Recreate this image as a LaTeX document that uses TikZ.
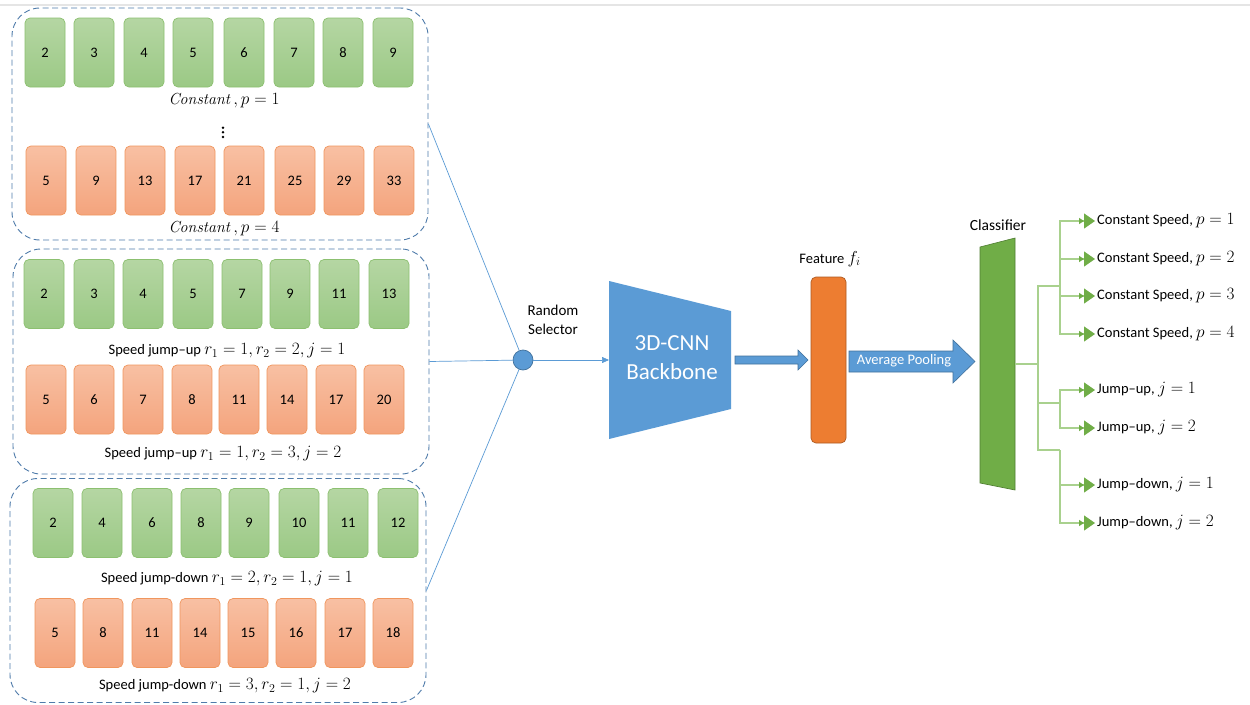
\documentclass[tikz,border=0pt]{standalone}
\usepackage{fontspec}
\setmainfont{Carlito}
\DeclareMathSizes{14.5}{16}{11.5}{9}
\usetikzlibrary{arrows.meta}

\definecolor{blu}{HTML}{5B9BD5}
\definecolor{bluD}{HTML}{41719C}
\definecolor{frm}{HTML}{4F7BAA}
\definecolor{org}{HTML}{ED7D31}
\definecolor{orgD}{HTML}{AE5A21}
\definecolor{grn}{HTML}{70AD47}
\definecolor{grnD}{HTML}{507E32}
\definecolor{grnL}{HTML}{A9D18E}
\definecolor{gTop}{HTML}{B5D6A3}
\definecolor{gBot}{HTML}{9BC985}
\definecolor{gEdge}{HTML}{8CC070}
\definecolor{oTop}{HTML}{F8C0A3}
\definecolor{oBot}{HTML}{F4A47D}
\definecolor{oEdge}{HTML}{F0965E}

% serif italic word set like a math identifier
\newcommand{\mword}[1]{{\fontfamily{lmr}\fontsize{16}{16}\selectfont\itshape #1}}

\tikzset{
  frame/.style={draw=frm, dash pattern=on 6pt off 3.5pt, line width=0.9pt,
    rounded corners=28pt, rectangle},
  fbox/.style={rectangle, rounded corners=5pt, minimum width=40pt,
    minimum height=69pt, line width=0.7pt, inner sep=0pt,
    font=\fontsize{14.5}{16}\selectfont},
  gbox/.style={fbox, draw=gEdge, top color=gTop, bottom color=gBot},
  obox/.style={fbox, draw=oEdge, top color=oTop, bottom color=oBot},
  grplbl/.style={font=\fontsize{14.5}{16}\selectfont, inner sep=1pt},
  feed/.style={draw=blu, line width=0.7pt},
  tl/.style={draw=grnL, line width=1.1pt},
  outarrow/.style={tl, -{Triangle[length=5pt,width=6pt,color=grn]Triangle[length=11pt,width=15pt,color=grn]}},
  outlbl/.style={anchor=west, inner sep=2pt, font=\fontsize{14.5}{16}\selectfont},
}

\begin{document}
\begin{tikzpicture}[x=1pt,y=-1pt]
\useasboundingbox (0,0) rectangle (1250,704);
\fill[white] (0,0) rectangle (1250,704);
\draw[black!10, line width=1.2pt] (0,5) -- (1250,5);

% ---- input clip groups ----
\node[frame, minimum width=416pt, minimum height=232pt] (f1) at (220,124) {};
\node[frame, minimum width=416pt, minimum height=225pt] (f2) at (221,361.5) {};
\node[frame, minimum width=416pt, minimum height=224pt] (f3) at (218,590.5) {};

% constant speed
\foreach \x/\t [count=\i] in {45/2,94/3,144/4,193/5,244/6,294/7,343/8,393/9}
  \node[gbox] (a\i) at (\x,52.5) {\t};
\node[grplbl] (la) at (224,101) {\mword{Constant}\ $,p=1$};
\foreach \yy in {127.7,132.3,137} \fill[black] (223,\yy) circle (1.4);
\foreach \x/\t [count=\i] in {46/5,96/9,145/13,195/17,244/21,295/25,344/29,394/33}
  \node[obox] (b\i) at (\x,180.5) {\t};
\node[grplbl] (lb) at (224,229) {\mword{Constant}\ $,p=4$};

% speed jump-up
\foreach \x/\t [count=\i] in {44/2,94/3,143/4,193/5,242/7,290/9,339/11,389/13}
  \node[gbox] (c\i) at (\x,294) {\t};
\node[grplbl] (lc) at (227,351) {Speed jump–up $r_1=1,r_2=2,j=1$};
\foreach \x/\t [count=\i] in {46/5,94/6,143/7,192/8,239/11,287/14,336/17,384/20}
  \node[obox] (d\i) at (\x,399.5) {\t};
\node[grplbl] (ld) at (223,454) {Speed jump–up $r_1=1,r_2=3,j=2$};

% speed jump-down
\foreach \x/\t [count=\i] in {53/2,102/4,152/6,201/8,249/9,299/10,348/11,398/12}
  \node[gbox] (e\i) at (\x,523) {\t};
\node[grplbl] (le) at (227,579) {Speed jump-down $r_1=2,r_2=1,j=1$};
\foreach \x/\t [count=\i] in {55/5,103/8,152/11,200/14,248/15,296/16,345/17,393/18}
  \node[obox] (g\i) at (\x,633) {\t};
\node[grplbl] (lg) at (225,686) {Speed jump-down $r_1=3,r_2=1,j=2$};

% ---- random selector ----
\node[circle, fill=blu, draw=bluD, line width=0.7pt, minimum size=20pt, inner sep=0pt] (sel) at (523,360) {};
\node[align=center, font=\fontsize{15}{19}\selectfont] (sellbl) at (553,320) {Random\\Selector};
\draw[feed] (f1.east) -- (sel);
\draw[feed] (f2.east) -- (sel);
\draw[feed] (f3.east) -- (sel);

% ---- backbone ----
\coordinate (bbin) at (609,360);
\fill[blu] (609,281) -- (731,311) -- (731,409) -- (609,439) -- cycle;
\node[text=white, align=center, font=\fontsize{23}{29}\selectfont] (bb) at (672,358) {3D-CNN\\Backbone};
\draw[feed, -{Triangle[length=7pt,width=6pt]}] (sel) -- (bbin);

% ---- feature ----
\draw[bluD, fill=blu, line width=0.6pt] (735,356) -- (798,356) -- (798,350) -- (808,360)
  -- (798,370) -- (798,364) -- (735,364) -- cycle;
\node[rectangle, rounded corners=5pt, fill=org, draw=orgD, line width=0.7pt,
  minimum width=35pt, minimum height=166pt] (feat) at (828.5,360) {};
\node[font=\fontsize{14.5}{16}\selectfont] (featlbl) at (830,259) {Feature $f_i$};

% ---- average pooling ----
\draw[bluD, fill=blu, line width=0.6pt] (849,351) -- (953,351) -- (953,340) -- (975,361.5)
  -- (953,383) -- (953,372) -- (849,372) -- cycle;
\node[text=white, font=\fontsize{14.5}{16}\selectfont] (pool) at (904,361) {Average Pooling};

% ---- classifier ----
\fill[grn] (980,247) -- (1015,238) -- (1015,490) -- (980,483) -- cycle;
\draw[grnD, line width=0.6pt] (980,247) -- (1015,238) -- (1015,490) -- (980,483) -- cycle;
\node[font=\fontsize{15.5}{16}\selectfont] (clslbl) at (998,225) {Classifier};
\coordinate (cout) at (1015,364);
\coordinate (hub) at (1038,364);
\coordinate (jc) at (1060,286);
\coordinate (ju) at (1060,403);
\coordinate (jd) at (1060,450);

\node[outlbl] (o1) at (1095,221) {Constant Speed, $p=1$};
\node[outlbl] (o2) at (1095,259) {Constant Speed, $p=2$};
\node[outlbl] (o3) at (1095,296) {Constant Speed, $p=3$};
\node[outlbl] (o4) at (1095,334) {Constant Speed, $p=4$};
\node[outlbl] (o5) at (1095,390) {Jump–up, $j=1$};
\node[outlbl] (o6) at (1095,428) {Jump–up, $j=2$};
\node[outlbl] (o7) at (1095,485) {Jump–down, $j=1$};
\node[outlbl] (o8) at (1095,523) {Jump–down, $j=2$};

\draw[tl] (cout) -- (hub);
\draw[tl] (hub) |- (jc);
\draw[tl] (hub) |- (ju);
\draw[tl] (hub) |- (jd);
\foreach \k in {1,2,3,4} \draw[outarrow] (jc) |- (o\k.west);
\foreach \k in {5,6} \draw[outarrow] (ju) |- (o\k.west);
\foreach \k in {7,8} \draw[outarrow] (jd) |- (o\k.west);
\end{tikzpicture}
\end{document}
